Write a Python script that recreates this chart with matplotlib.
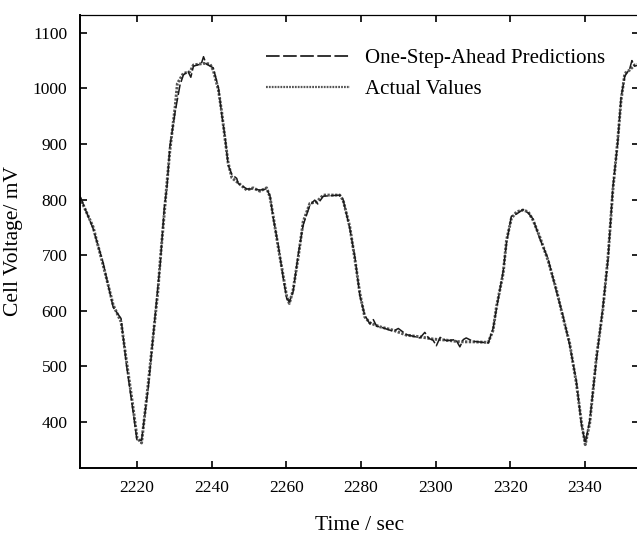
import matplotlib
matplotlib.use("Agg")
import matplotlib.pyplot as plt
from matplotlib.lines import Line2D

plt.rcParams['font.family'] = ['Liberation Serif', 'DejaVu Serif']

# measured cell voltage (mV) against time (s)
t_actual = [2204.7, 2208.2, 2210.9, 2213.6, 2215.7, 2217.1, 2218.9, 2220.0, 2221.2, 2223.0,
            2225.6, 2226.2, 2227.3, 2228.0, 2228.8, 2230.2, 2230.8, 2232.4, 2234.2, 2235.1,
            2237.8, 2239.5, 2240.4, 2241.8, 2242.7, 2243.6, 2244.4, 2245.4, 2247.1, 2249.4,
            2251.1, 2252.9, 2254.7, 2255.6, 2256.5, 2257.8, 2259.2, 2260.1, 2260.8, 2261.8,
            2263.2, 2264.5, 2266.3, 2268.1, 2269.9, 2274.3, 2275.2, 2277.0, 2278.4, 2279.7,
            2281.0, 2282.4, 2285.1, 2288.6, 2292.2, 2295.8, 2299.3, 2302.9, 2306.5, 2310.0,
            2314.1, 2315.4, 2316.3, 2318.1, 2319.0, 2320.3, 2321.7, 2323.4, 2324.8, 2326.1,
            2327.9, 2330.1, 2332.4, 2334.1, 2335.9, 2337.7, 2339.1, 2340.1, 2341.3, 2343.1,
            2344.8, 2346.2, 2347.5, 2348.8, 2349.7, 2350.7, 2352.0, 2353.3, 2355.5]
v_actual = [803, 751, 682, 610, 580, 512, 427, 371, 362, 470,
            637, 691, 776, 830, 889, 967, 1009, 1027, 1030, 1042,
            1045, 1044, 1033, 997, 956, 907, 866, 839, 830, 817,
            821, 815, 821, 805, 769, 715, 661, 625, 613, 637,
            697, 760, 793, 796, 808, 808, 799, 751, 691, 631,
            589, 578, 571, 565, 556, 553, 549, 547, 544, 544,
            543, 565, 607, 667, 727, 766, 778, 781, 778, 763,
            733, 691, 637, 589, 542, 470, 398, 359, 398, 517,
            601, 697, 817, 907, 979, 1027, 1033, 1042, 1045]

# one-step-ahead model output
t_pred = [2204.7, 2208.2, 2210.9, 2213.6, 2215.7, 2217.1, 2218.9, 2220.0, 2221.2, 2223.0,
          2225.6, 2226.2, 2227.3, 2228.0, 2228.8, 2230.2, 2231.5, 2232.4, 2233.6, 2234.4,
          2235.1, 2237.2, 2237.8, 2238.5, 2240.4, 2241.8, 2242.7, 2243.6, 2244.4, 2245.4,
          2246.7, 2247.1, 2249.4, 2251.1, 2252.9, 2254.7, 2255.6, 2256.5, 2257.8, 2259.2,
          2260.1, 2260.8, 2261.8, 2263.2, 2264.5, 2266.3, 2267.6, 2268.4, 2269.9, 2274.3,
          2275.2, 2277.0, 2278.4, 2279.7, 2281.0, 2282.4, 2283.3, 2284.2, 2285.1, 2288.6,
          2290.0, 2291.2, 2292.2, 2295.8, 2297.1, 2298.2, 2299.3, 2300.2, 2301.2, 2302.9,
          2305.4, 2306.5, 2307.4, 2308.2, 2310.0, 2314.1, 2315.4, 2316.3, 2318.1, 2319.0,
          2320.3, 2321.7, 2323.4, 2324.8, 2326.1, 2327.9, 2330.1, 2332.4, 2334.1, 2335.9,
          2337.7, 2339.1, 2340.1, 2341.3, 2343.1, 2344.8, 2346.2, 2347.5, 2348.8, 2349.7,
          2350.7, 2352.0, 2352.6, 2353.3, 2355.5]
v_pred = [806, 748, 686, 606, 586, 505, 420, 366, 367, 462,
          645, 684, 786, 822, 896, 958, 1006, 1024, 1031, 1020,
          1040, 1044, 1057, 1044, 1037, 1001, 952, 911, 862, 845,
          838, 829, 819, 819, 817, 819, 807, 766, 719, 657,
          622, 616, 634, 702, 754, 790, 799, 792, 806, 808,
          800, 748, 695, 627, 592, 576, 584, 572, 571, 563,
          568, 562, 557, 551, 561, 550, 547, 537, 552, 546,
          548, 535, 548, 551, 545, 542, 568, 603, 671, 722,
          770, 774, 782, 776, 765, 730, 694, 634, 592, 539,
          474, 394, 362, 402, 512, 605, 692, 822, 902, 984,
          1022, 1035, 1050, 1040, 1044]

fig = plt.figure(figsize=(6.37, 5.36), dpi=100)
# right spine sits just past the canvas edge, only its ticks show
ax = fig.add_axes([80/637, 68/536, 559/637, 453/536])

ax.plot(t_actual, v_actual, color='#555555', lw=2.1, linestyle=(0, (0.8, 0.5)))
ax.plot(t_pred, v_pred, color='#1a1a1a', lw=1.1, linestyle=(0, (7, 1.8)))

ax.set_xlim(2204.7, 2354.5)
ax.set_ylim(317, 1132)
ax.set_xticks([2220, 2240, 2260, 2280, 2300, 2320, 2340])
ax.set_yticks([400, 500, 600, 700, 800, 900, 1000, 1100])
ax.tick_params(direction='in', length=5, width=1.2, labelsize=12.5, pad=9,
               top=True, right=True)
for s in ['left', 'bottom']:
    ax.spines[s].set_linewidth(1.4)
for s in ['top', 'right']:
    ax.spines[s].set_linewidth(0.9)

ax.set_xlabel('Time / sec', fontsize=15.5, labelpad=14)
ax.set_ylabel('Cell Voltage/ mV', fontsize=15.5, labelpad=7)

handles = [Line2D([], [], color='#333333', lw=1.4, linestyle=(0, (7, 1.8))),
           Line2D([], [], color='#555555', lw=1.6, linestyle=(0, (0.8, 0.5)))]
leg = ax.legend(handles, ['One-Step-Ahead Predictions', 'Actual Values'],
                loc='upper left', bbox_to_anchor=(258/637, 1 - 40/536),
                bbox_transform=fig.transFigure, frameon=False, fontsize=15,
                handlelength=4.0, handletextpad=0.75, labelspacing=0.55,
                borderaxespad=0)

fig.savefig('out.png', dpi=100)
